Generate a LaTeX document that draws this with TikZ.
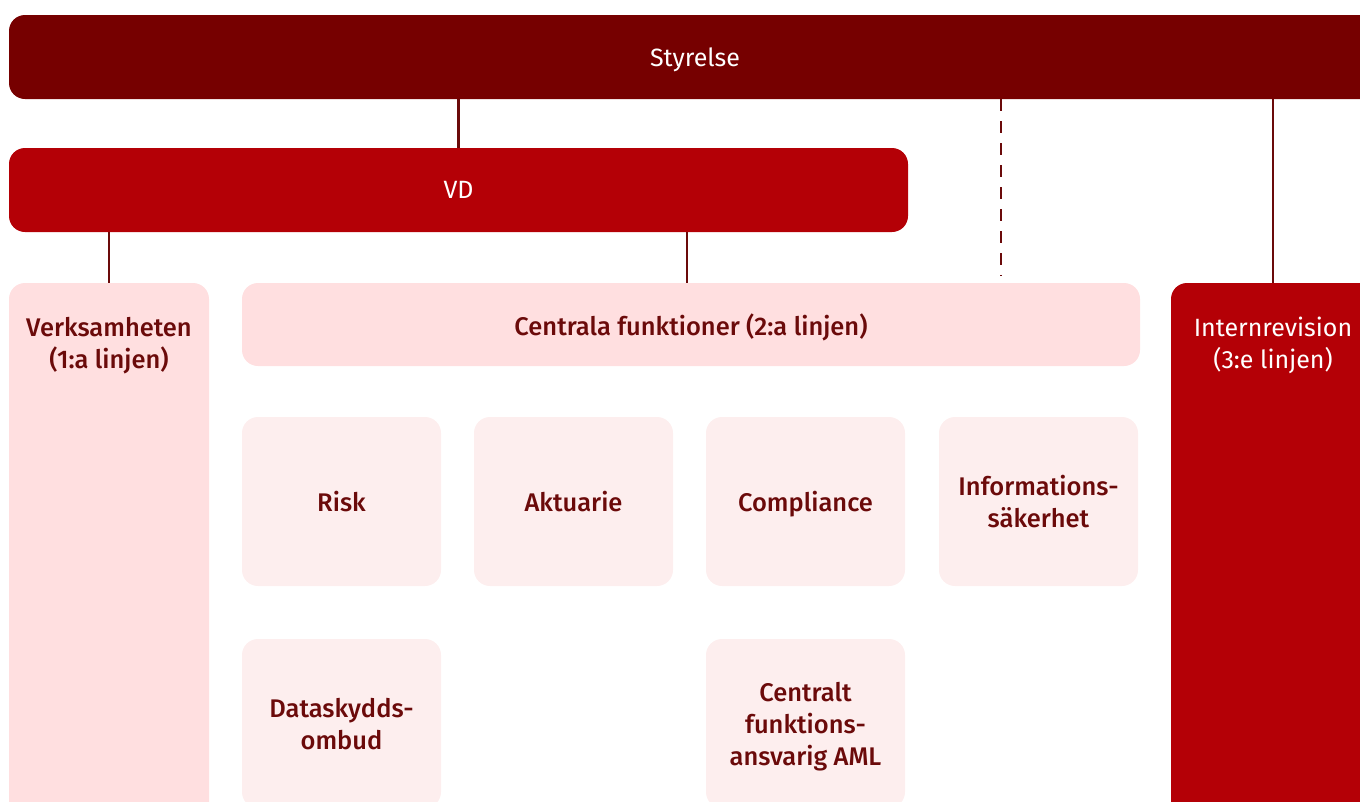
\documentclass[tikz,border=0pt]{standalone}
\usepackage{fontspec}
\setmainfont{Fira Sans}
\newfontfamily\medfont{Fira Sans}[UprightFont=* Medium]
\usepackage{tikz}
\usetikzlibrary{calc}

\definecolor{board}{HTML}{760000}
\definecolor{ceo}{HTML}{B40006}
\definecolor{lineone}{HTML}{FFDFE0}
\definecolor{func}{HTML}{FDEEEE}
\definecolor{ink}{HTML}{6B0A0A}

\tikzset{
  box/.style={rectangle, rounded corners=16pt, inner sep=0pt, text depth=0pt},
  topbox/.style={box, fill=#1, text=white, font=\fontsize{25}{32}\selectfont},
  darktext/.style={text=ink, align=center, font=\medfont\fontsize{25.5}{32}\selectfont},
  funcbox/.style={box, fill=func, darktext,
    minimum width=199pt, minimum height=169pt},
  link/.style={draw=ink, line width=2.5pt},
}

\begin{document}
\begin{tikzpicture}[x=1pt, y=-1pt]
    \useasboundingbox (0,0) rectangle (1360,801);
    \clip (0,0) rectangle (1360,801);
    \node[topbox=board, minimum width=1372pt, minimum height=84pt] (S) at (695,57) {Styrelse};
    \node[topbox=ceo, minimum width=899pt, minimum height=84pt] (VD) at (458.5,190) {VD};
    % the three lines
    \node[box, fill=lineone, minimum width=200pt, minimum height=540pt, label={[anchor=north, yshift=-31pt, darktext]north:Verksamheten\\(1:a linjen)}] (L1) at (109,553) {};
    \node[box, fill=lineone, darktext, minimum width=898pt, minimum height=83pt] (L2) at (691,324.5) {Centrala funktioner (2:a linjen)};
    \node[box, fill=ceo, minimum width=204pt, minimum height=540pt, label={[anchor=north, yshift=-31pt, align=center, text=white, font=\fontsize{25}{32}\selectfont]north:Internrevision\\(3:e linjen)}] (L3) at (1273,553) {};
    % functions
    \node[funcbox] (Risk) at (341.5,501.5) {Risk};
    \node[funcbox] (Akt) at (573.5,501.5) {Aktuarie};
    \node[funcbox] (Comp) at (805.5,501.5) {Compliance};
    \node[funcbox] (Info) at (1038.5,501.5) {Informations-\\säkerhet};
    \node[funcbox] (Data) at (341.5,723.5) {Dataskydds-\\ombud};
    \node[funcbox] (AML) at (805.5,723.5) {Centralt\\funktions-\\ansvarig AML};
    % connectors
    \coordinate (dash) at (1001,276);
    \path[link] (S.south -| VD) -- (VD.north);
    \path[link] (VD.south -| L1) -- (L1.north);
    \path[link] (VD.south -| 687,0) -- (687,0 |- L2.north);
    \path[link] (S.south -| L3) -- (L3.north);
    \path[link, dash pattern=on 12pt off 10pt] (S.south -| dash) -- (dash);
\end{tikzpicture}
\end{document}
